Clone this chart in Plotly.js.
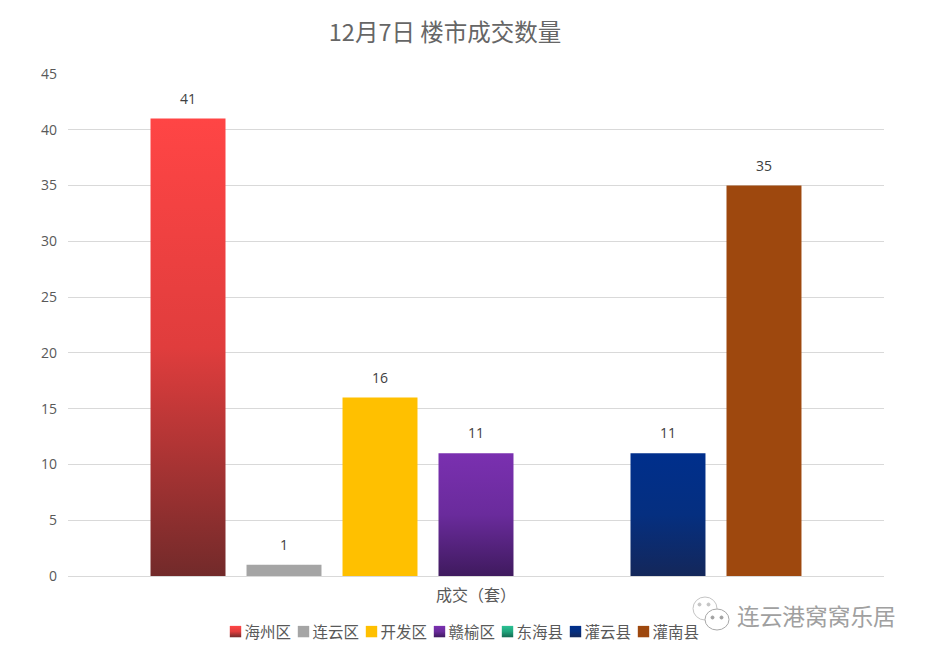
<!DOCTYPE html>
<html><head><meta charset="utf-8">
<script src="https://cdn.plot.ly/plotly-3.0.1.min.js"></script>
<style>html,body{margin:0;padding:0;background:#fff}</style></head>
<body><div id="c" style="width:926px;height:656px"></div>
<script>
const category = ['成交（套）'];
const seriesNames = ['海州区','连云区','开发区','赣榆区','东海县','灌云县','灌南县'];
const seriesValues = [41,1,16,11,0,11,35];
const gradTop = ['#ff4545','#a5a5a5','#ffc000','#7a30b0','#2cc193','#002f8c','#9e480e'];
const gradMid = ['#e03d3d','#a5a5a5','#ffc000','#6a2b9c','#20a57c','#052f80','#9e480e'];
const gradBottom = ['#722a2a','#a5a5a5','#ffc000','#3f1a5e','#156a52','#14275a','#9e480e'];
const CJK = '"Noto Sans CJK SC","Noto Sans",sans-serif';

const traces = seriesNames.map((n,i)=>({
  type:'bar', name:n, x:category, y:[seriesValues[i]],
  marker:{color:gradTop[i], line:{width:0}},
  text:[seriesValues[i] ? String(seriesValues[i]) : ''],
  textposition:'outside', cliponaxis:false,
  textfont:{family:'"Open Sans",sans-serif',size:14,color:'#404040'},
  hoverinfo:'name+y'
}));

const px = v => (v-68)/816, py = v => (576-v)/502;
const bubble = (x0,y0,x1,y1,color,fill) => ({type:'circle',xref:'paper',yref:'paper',x0:px(x0),x1:px(x1),y0:py(y1),y1:py(y0),
  line:{color:color,width:1},fillcolor:fill});

const layout = {
  width:926, height:656, paper_bgcolor:'#fff', plot_bgcolor:'#fff',
  margin:{l:68,r:42,t:74,b:80},
  title:{text:'12月7日 楼市成交数量', font:{family:CJK,size:23.5,color:'#666666'},
         xref:'container', yref:'container', x:445/926, y:1-33/656, xanchor:'center', yanchor:'middle'},
  barmode:'group', bargap:0.1765, bargroupgap:0.219,
  xaxis:{type:'category', showgrid:false, showline:true, linecolor:'#d9d9d9', linewidth:1,
         ticks:'', ticklabelstandoff:5, tickfont:{family:CJK,size:16,color:'#595959'}},
  yaxis:{range:[0,45], dtick:5, showgrid:true, gridcolor:'#d9d9d9', gridwidth:1, zeroline:false,
         showline:false, ticks:'', ticklabelstandoff:10, tickfont:{family:'"Open Sans",sans-serif',size:14,color:'#595959'}},
  showlegend:true,
  legend:{orientation:'h', x:442.5/926, xref:'container', xanchor:'center', y:1-615/656, yref:'container', yanchor:'top',
          traceorder:'normal', font:{family:CJK,size:15.5,color:'#595959'},
          entrywidth:23, entrywidthmode:'pixels', itemwidth:30, itemclick:false, itemdoubleclick:false},
  annotations:[
    {xref:'paper',yref:'paper',x:px(735),y:py(615),xanchor:'left',yanchor:'middle',showarrow:false,
     text:'连云港窝窝乐居',font:{family:CJK,size:22.7,color:'#a0a0a0'}}
  ],
  shapes:[
    bubble(693,597,717,620,'#c4c4c4','rgba(255,255,255,0)'),
    bubble(705,609,729,630,'#a8a8a8','#ffffff'),
    bubble(698,603,701,606,'#c4c4c4','#c4c4c4'),
    bubble(707,603,710,606,'#c4c4c4','#c4c4c4'),
    bubble(711,616,714,619,'#a0a0a0','#a0a0a0'),
    bubble(720,616,723,619,'#a0a0a0','#a0a0a0')
  ]
};

const gd = document.getElementById('c');
function applyGradients(){
  const svg = gd.querySelector('svg.main-svg');
  const ns='http://www.w3.org/2000/svg';
  let defs = svg.querySelector('defs#bar-grads');
  if(!defs){
    defs=document.createElementNS(ns,'defs'); defs.id='bar-grads';
    seriesNames.forEach((n,i)=>{
      const g=document.createElementNS(ns,'linearGradient');
      g.id='grad'+i; g.setAttribute('x1','0');g.setAttribute('y1','0');g.setAttribute('x2','0');g.setAttribute('y2','1');
      [[0,gradTop[i]],[0.5,gradMid[i]],[1,gradBottom[i]]].forEach(([o,c])=>{
        const s=document.createElementNS(ns,'stop'); s.setAttribute('offset',o); s.setAttribute('stop-color',c); g.appendChild(s);
      });
      defs.appendChild(g);
    });
    svg.insertBefore(defs,svg.firstChild);
  }
  gd.querySelectorAll('.barlayer .trace.bars').forEach((t,i)=>{
    t.querySelectorAll('.point path').forEach(p=>{p.style.fill='url(#grad'+i+')';});
    t.querySelectorAll('.point text').forEach(x=>{
      if(!x.dataset.moved){ x.dataset.moved='1';
        x.setAttribute('transform','translate(0,-8) '+(x.getAttribute('transform')||''));
      }
    });
  });
  gd.querySelectorAll('.legend [clip-path], .legend').forEach(e=>e.removeAttribute('clip-path'));
  gd.querySelectorAll('.legend .traces').forEach((t,i)=>{
    t.querySelectorAll('.legendpoints path').forEach(p=>{
      p.style.fill='url(#grad'+i+')'; p.style.stroke='none';
      p.setAttribute('transform','translate(31,0) scale(0.95)');
    });
  });
}
Plotly.newPlot(gd,traces,layout,{displayModeBar:false,responsive:false}).then(()=>{
  applyGradients();
  gd.on('plotly_afterplot',applyGradients);
});
</script></body></html>
